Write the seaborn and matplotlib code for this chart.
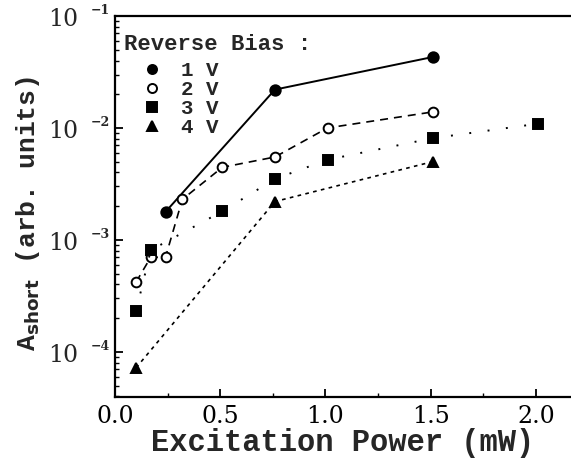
import numpy as np
import pandas as pd
import seaborn as sns
import matplotlib
matplotlib.use("Agg")
import matplotlib.pyplot as plt
from matplotlib.lines import Line2D
from matplotlib.ticker import LogLocator, MultipleLocator, NullFormatter

# Excitation power (mW) and short-component amplitude (arb. units) per reverse bias
power_1v = [0.24, 0.76, 1.51]
amp_1v = [1.78e-3, 2.2e-2, 4.3e-2]

power_2v = [0.10, 0.17, 0.24, 0.32, 0.51, 0.76, 1.01, 1.51]
amp_2v = [4.2e-4, 7.0e-4, 7.0e-4, 2.3e-3, 4.45e-3, 5.5e-3, 1.0e-2, 1.39e-2]

power_3v = [0.10, 0.17, 0.51, 0.76, 1.01, 1.51, 2.01]
amp_3v = [2.3e-4, 8.1e-4, 1.8e-3, 3.5e-3, 5.2e-3, 8.1e-3, 1.09e-2]

power_4v = [0.10, 0.76, 1.51]
amp_4v = [7.2e-5, 2.2e-3, 5.0e-3]

bias_labels = ["1 V", "2 V", "3 V", "4 V"]
legend_title = "Reverse Bias :"
x_label = "Excitation Power (mW)"
y_label = r"A$_{\mathbf{short}}$ (arb. units)"
x_ticks = [0.0, 0.5, 1.0, 1.5, 2.0]
y_decades = [-1, -2, -3, -4]

MONO = "Liberation Mono"
SERIF = "DejaVu Serif"

sns.set_theme(style="ticks")
plt.rcParams["font.family"] = [SERIF, "DejaVu Sans"]
plt.rcParams["mathtext.fontset"] = "custom"
plt.rcParams["mathtext.rm"] = "Liberation Mono:bold"
plt.rcParams["mathtext.bf"] = "DejaVu Sans:bold"

fig = plt.figure(figsize=(5.71, 4.63), dpi=100)
ax = fig.add_axes([0.2014, 0.1425, 0.7986, 0.823])

series = [
    (power_1v, amp_1v, "o", "black", "-", 1.4, 7.5),
    (power_2v, amp_2v, "o", "white", (0, (4.8, 3.6)), 1.2, 7.0),
    (power_3v, amp_3v, "s", "black", (0, (1.0, 8.5)), 1.4, 7.0),
    (power_4v, amp_4v, "^", "black", (0, (2.2, 2.6)), 1.2, 7.5),
]

handles = []
for (px, py, mk, fc, ls, lw, ms), lab in zip(series, bias_labels):
    df = pd.DataFrame({"power": px, "amp": py})
    sns.lineplot(data=df, x="power", y="amp", ax=ax, color="black",
                 linestyle=ls, linewidth=lw, marker=mk, markersize=ms,
                 markerfacecolor=fc, markeredgecolor="black",
                 markeredgewidth=1.4, sort=False, legend=False)
    handles.append(Line2D([], [], linestyle="none", marker=mk, markersize=6.5,
                          markerfacecolor=fc, markeredgecolor="black",
                          markeredgewidth=1.4, color="black"))

ax.set_yscale("log")
ax.set_xlim(0.0, 2.167)
ax.set_ylim(3.95e-5, 0.1)

# x axis ticks
ax.set_xticks(x_ticks)
ax.set_xticklabels([f"{t:.1f}" for t in x_ticks], fontsize=17, family=SERIF)
ax.xaxis.set_minor_locator(MultipleLocator(0.25))

# y axis: decade ticks with "10" and a raised exponent
ax.yaxis.set_major_locator(LogLocator(base=10, numticks=10))
ax.yaxis.set_minor_locator(LogLocator(base=10, subs=np.arange(2, 10), numticks=20))
ax.yaxis.set_major_formatter(NullFormatter())
ax.yaxis.set_minor_formatter(NullFormatter())
for e in y_decades:
    ax.annotate("10", xy=(0, 10.0 ** e), xycoords=("axes fraction", "data"),
                xytext=(-26.5, -2.5), textcoords="offset points",
                ha="right", va="center", fontsize=17, family=SERIF,
                annotation_clip=False)
    ax.annotate(f"\u2212{-e:d}", xy=(0, 10.0 ** e), xycoords=("axes fraction", "data"),
                xytext=(-10.5, 3.8), textcoords="offset points",
                ha="center", va="center", fontsize=9, fontweight="bold",
                family=SERIF, annotation_clip=False)

ax.tick_params(axis="both", which="major", direction="in", length=6, width=1.3,
               colors="black", pad=6)
ax.tick_params(axis="both", which="minor", direction="in", length=3, width=1.0,
               colors="black")

for side in ["left", "bottom", "top"]:
    ax.spines[side].set_linewidth(1.6)
    ax.spines[side].set_color("black")
ax.spines["right"].set_visible(False)

ax.set_xlabel(x_label, fontsize=22, family=MONO, fontweight="bold", labelpad=0)
ax.set_ylabel(y_label, fontsize=19, family=MONO, fontweight="bold")
ax.yaxis.set_label_coords(-0.16, 0.482)

leg = ax.legend(handles, bias_labels, title=legend_title, loc="upper left",
                bbox_to_anchor=(0.02, 0.954), frameon=False, borderaxespad=0,
                prop={"family": MONO, "weight": "bold", "size": 15},
                title_fontproperties={"family": MONO, "weight": "bold", "size": 16},
                handletextpad=0.05, labelspacing=0.0, borderpad=0.0,
                handlelength=2.7)
leg._legend_box.align = "left"
leg._legend_box.sep = 5

fig.savefig("out.png", dpi=100)
